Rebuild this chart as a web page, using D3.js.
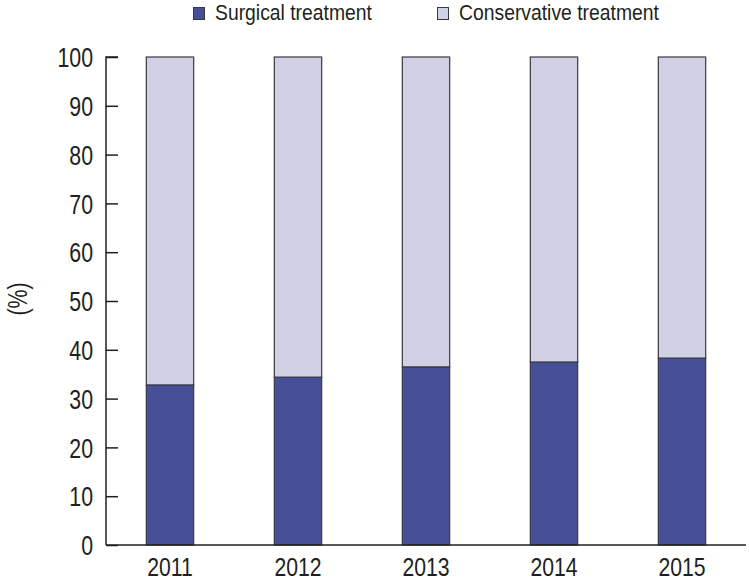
<!DOCTYPE html>
<html>
<head>
<meta charset="utf-8">
<script src="https://cdn.jsdelivr.net/npm/d3@7"></script>
<style>
  body { margin: 0; background: #fff; }
  text { font-family: "Liberation Sans", Arial, sans-serif; fill: #231f20; }
</style>
</head>
<body>
<div id="canvas"></div>
<script>
"use strict"

let years = ["2011", "2012", "2013", "2014", "2015"];
let surgical = [32.8, 34.4, 36.5, 37.5, 38.3];
let conservative = surgical.map(v => 100 - v);
let yTicks = [0, 10, 20, 30, 40, 50, 60, 70, 80, 90, 100];
let seriesNames = ["Surgical treatment", "Conservative treatment"];
let seriesColors = ["#464f98", "#d1d1e6"];

let drawing = d3.select("#canvas")
    .append("svg")
    .attr("width", 749)
    .attr("height", 581);

let plotLeft = 106, plotRight = 746, plotTop = 57, plotBottom = 545;
let squeeze = 0.79; // condensed look of the original type

let x = d3.scaleBand().domain(years).range([plotLeft, plotRight]).paddingInner(0.63).paddingOuter(0.315);
let y = d3.scaleLinear().domain([0, 100]).range([plotBottom, plotTop]);

// stacked bars
let rows = years.map((yr, i) => ({ year: yr, surgical: surgical[i], conservative: conservative[i] }));
let stack = d3.stack().keys(["surgical", "conservative"])(rows);

drawing.selectAll("g.layer")
    .data(stack)
    .join("g")
    .attr("class", "layer")
    .attr("fill", (d, i) => seriesColors[i])
    .selectAll("rect")
    .data(d => d)
    .join("rect")
    .attr("x", d => x(d.data.year))
    .attr("y", d => y(d[1]))
    .attr("width", x.bandwidth())
    .attr("height", d => y(d[0]) - y(d[1]))
    .attr("stroke", "#3a3a3a")
    .attr("stroke-width", 1.2);

// y axis, ticks inward
let yAxis = drawing.append("g")
    .attr("transform", `translate(${plotLeft},0)`)
    .call(d3.axisRight(y).tickValues(yTicks).tickSize(12).tickFormat(d3.format("d")));
yAxis.attr("font-family", null);
yAxis.select(".domain").attr("stroke", "#231f20").attr("stroke-width", 1.5).attr("d", `M12,${plotTop}H0V${plotBottom}`);
yAxis.selectAll(".tick line").attr("stroke", "#231f20").attr("stroke-width", 1.5);
yAxis.selectAll(".tick text")
    .attr("x", 0)
    .attr("dy", "0.36em")
    .attr("text-anchor", "end")
    .attr("font-size", 27)
    .attr("transform", `translate(-13,0) scale(${squeeze},1)`);

// x axis
let xAxis = drawing.append("g")
    .attr("transform", `translate(0,${plotBottom})`)
    .call(d3.axisBottom(x).tickSize(0));
xAxis.attr("font-family", null);
xAxis.select(".domain").attr("stroke", "#231f20").attr("stroke-width", 1.5).attr("d", `M${plotLeft},0H${plotRight}`);
xAxis.selectAll(".tick text")
    .attr("y", 0)
    .attr("dy", null)
    .attr("font-size", 26.5)
    .attr("transform", `translate(0,31) scale(${squeeze + 0.01},1)`);

// y label
drawing.append("text")
    .attr("transform", `translate(27,299) rotate(-90) scale(${squeeze},1)`)
    .attr("text-anchor", "middle")
    .attr("font-size", 27)
    .text("(%)");

// legend
let legendX = [193, 437];
let legend = drawing.selectAll("g.legend")
    .data(seriesNames)
    .join("g")
    .attr("class", "legend")
    .attr("transform", (d, i) => `translate(${legendX[i]},0)`);
legend.append("rect")
    .attr("x", 0.5).attr("y", 7.5)
    .attr("width", 11).attr("height", 12)
    .attr("fill", (d, i) => seriesColors[i])
    .attr("stroke", "#3a3a3a").attr("stroke-width", 1);
legend.append("text")
    .attr("transform", "translate(22,20) scale(0.86,1)")
    .attr("font-size", 22.5)
    .text(d => d);
</script>
</body>
</html>
